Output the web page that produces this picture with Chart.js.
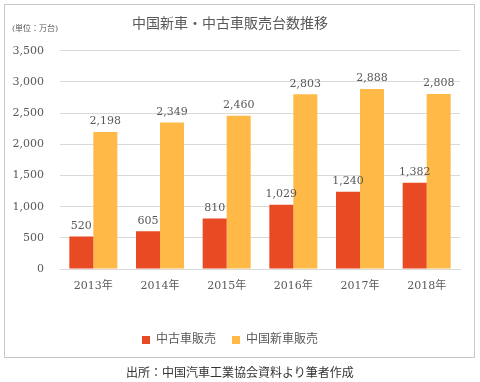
<!DOCTYPE html>
<html><head><meta charset="utf-8">
<script src="https://cdn.jsdelivr.net/npm/chart.js@4.4.1/dist/chart.umd.min.js"></script>
<style>
html,body{margin:0;padding:0;background:#fff;}
#wrap{position:relative;width:480px;height:382px;}
#caption{position:absolute;left:0;top:363px;width:480px;text-align:center;font:12px "DejaVu Serif","Noto Sans CJK JP",serif;color:#333;}
</style></head>
<body>
<div id="wrap"><canvas id="c" width="480" height="382"></canvas>
<div id="caption">出所：中国汽車工業協会資料より筆者作成</div></div>
<script>
const categories = ["2013年","2014年","2015年","2016年","2017年","2018年"];
const usedCarSales = [520, 605, 810, 1029, 1240, 1382];
const newCarSales = [2198, 2349, 2460, 2803, 2888, 2808];
const seriesNames = ["中古車販売","中国新車販売"];
const titleText = "中国新車・中古車販売台数推移";
const unitText = "(単位：万台)";

const serif = '"DejaVu Serif","Noto Sans CJK JP",serif';
const txt = '#595959';

const extras = {
  id:'extras',
  beforeDraw(chart){
    const ctx = chart.ctx;
    ctx.save();
    ctx.strokeStyle = '#c8c8c8';
    ctx.lineWidth = 1;
    ctx.strokeRect(4.5,4.5,470,353);
    ctx.fillStyle = txt;
    ctx.font = '8px ' + serif;
    ctx.textBaseline = 'middle';
    ctx.textAlign = 'left';
    ctx.fillText(unitText, 12, 29);
    ctx.restore();
  },
  afterDatasetsDraw(chart){
    const ctx = chart.ctx;
    ctx.save();
    ctx.fillStyle = txt;
    ctx.font = '11px ' + serif;
    ctx.textAlign = 'center';
    ctx.textBaseline = 'bottom';
    chart.data.datasets.forEach((ds,i)=>{
      const meta = chart.getDatasetMeta(i);
      meta.data.forEach((el,j)=>{
        ctx.fillText(ds.data[j].toLocaleString('en-US'), el.x, el.y - 5);
      });
    });
    ctx.restore();
  }
};

new Chart(document.getElementById('c'), {
  type:'bar',
  data:{
    labels: categories,
    datasets:[
      {label: seriesNames[0], data: usedCarSales, backgroundColor:'#E84B23'},
      {label: seriesNames[1], data: newCarSales, backgroundColor:'#FEB946'}
    ]
  },
  plugins:[extras],
  options:{
    responsive:false,
    animation:false,
    locale:'en-US',
    layout:{padding:{left:0,right:20,top:16,bottom:26}},
    datasets:{bar:{categoryPercentage:0.72,barPercentage:1.0}},
    plugins:{
      title:{display:true,text:titleText,color:txt,font:{family:serif,size:14,weight:'normal'},padding:{top:0,bottom:18}},
      legend:{position:'bottom',labels:{color:txt,font:{family:serif,size:12},boxWidth:8,boxHeight:8,padding:16}},
      tooltip:{enabled:false}
    },
    scales:{
      x:{
        grid:{display:false},
        border:{display:true,color:'#d9d9d9'},
        ticks:{color:txt,font:{family:serif,size:11},padding:3},
        afterFit(s){s.height = 49;}
      },
      y:{
        min:0,max:3500,
        grid:{color:'#d9d9d9',drawTicks:false},
        border:{display:false},
        ticks:{stepSize:500,color:txt,font:{family:serif,size:11},padding:16},
        afterFit(s){s.width = 60;}
      }
    }
  }
});
</script>
</body></html>
